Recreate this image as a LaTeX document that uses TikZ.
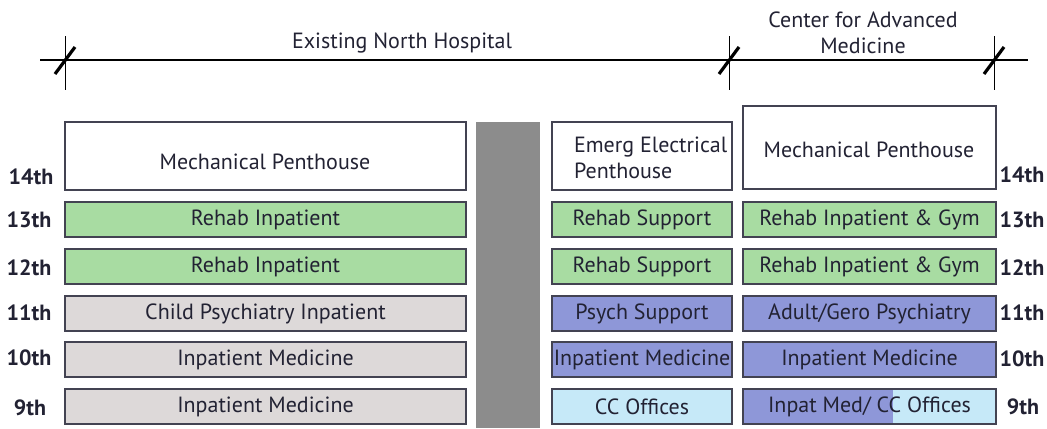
\documentclass[tikz,border=0pt]{standalone}
\usepackage{fontspec}
\setmainfont{PT Sans}
\usetikzlibrary{calc}

\definecolor{rehab}{HTML}{A8DCA2}
\definecolor{psych}{HTML}{8E97D8}
\definecolor{offices}{HTML}{C6E9F8}
\definecolor{existing}{HTML}{DDD9D9}
\definecolor{core}{HTML}{8C8C8C}
\definecolor{ink}{HTML}{222233}

\begin{document}
\begin{tikzpicture}[x=0.5pt,y=-0.5pt]
\tikzstyle{every node}=[font=\fontsize{11}{13}\selectfont,text=ink]
\tikzstyle{floor}=[draw=ink!85,line width=0.7pt,minimum height=17.5pt,inner sep=0pt]
\tikzstyle{north}=[floor,minimum width=200.5pt]
\tikzstyle{link}=[floor,minimum width=90pt]
\tikzstyle{cam}=[floor,minimum width=126.5pt]
\tikzstyle{level}=[font=\fontsize{11}{13}\selectfont\bfseries]
\useasboundingbox (0,0) rectangle (1047,428);

% dimension line with building limits
\draw[line width=0.6pt](40,60)--(1028,60);
\foreach \x in {65,729,994}{
  \draw[line width=0.5pt](\x,36)--(\x,90);
  \draw[line width=1.6pt](\x-10,74)--(\x+10,47);
}
\node (north) at (402,43) {Existing North Hospital};
\node[align=center] (cam) at (863,33) {Center for Advanced\\Medicine};

% core between the buildings
\fill[core](476,122) rectangle (540,428);

% penthouses
\draw[line width=0.7pt,draw=ink!85](65,122) rectangle (466,190);
\draw[line width=0.7pt,draw=ink!85](552,122) rectangle (732,190);
\draw[line width=0.7pt,draw=ink!85](743,106) rectangle (996,189);
\node (mechN) at (265,162) {Mechanical Penthouse};
\node[anchor=west,align=left] (emerg) at (567,158) {Emerg Electrical\\Penthouse};
\node (mechC) at (869,150) {Mechanical Penthouse};

% existing north hospital
\node[north,fill=rehab] (n13) at (265.5,219.5) {Rehab Inpatient};
\node[north,fill=rehab] (n12) at (265.5,266.5) {Rehab Inpatient};
\node[north,fill=existing] (n11) at (265.5,313.5) {Child Psychiatry Inpatient};
\node[north,fill=existing] (n10) at (265.5,359.5) {Inpatient Medicine};
\node[north,fill=existing] (n9) at (265.5,406.5) {Inpatient Medicine};

% link floors
\node[link,fill=rehab] (l13) at (642,219.5) {Rehab Support};
\node[link,fill=rehab] (l12) at (642,266.5) {Rehab Support};
\node[link,fill=psych] (l11) at (642,313.5) {Psych Support};
\node[link,fill=psych] (l10) at (642,359.5) {Inpatient Medicine};
\node[link,fill=offices] (l9) at (642,406.5) {CC Offices};

% center for advanced medicine
\node[cam,fill=rehab] (c13) at (869.5,219.5) {Rehab Inpatient \& Gym};
\node[cam,fill=rehab] (c12) at (869.5,266.5) {Rehab Inpatient \& Gym};
\node[cam,fill=psych] (c11) at (869.5,313.5) {Adult/Gero Psychiatry};
\node[cam,fill=psych] (c10) at (869.5,359.5) {Inpatient Medicine};
\node[cam,fill=offices,path picture={
  \fill[psych](path picture bounding box.south west) rectangle
    ($(path picture bounding box.north west)!0.593!(path picture bounding box.north east)$);
  \draw[ink,line width=0.4pt](852,393)--(852,420);
}] (c9) at (869.5,406.5) {Inpat Med/ CC Offices};

% floor numbers
\node[level] (f14) at (31,177) {14th};
\node[level] (f13) at (29,220) {13th};
\node[level] (f12) at (29,268) {12th};
\node[level] (f11) at (29,313) {11th};
\node[level] (f10) at (29,358) {10th};
\node[level] (f9) at (30,408) {9th};
\node[level] (g14) at (1022,175) {14th};
\node[level] (g13) at (1022,220) {13th};
\node[level] (g12) at (1022,268) {12th};
\node[level] (g11) at (1022,313) {11th};
\node[level] (g10) at (1022,359) {10th};
\node[level] (g9) at (1023,407) {9th};

\end{tikzpicture}
\end{document}
